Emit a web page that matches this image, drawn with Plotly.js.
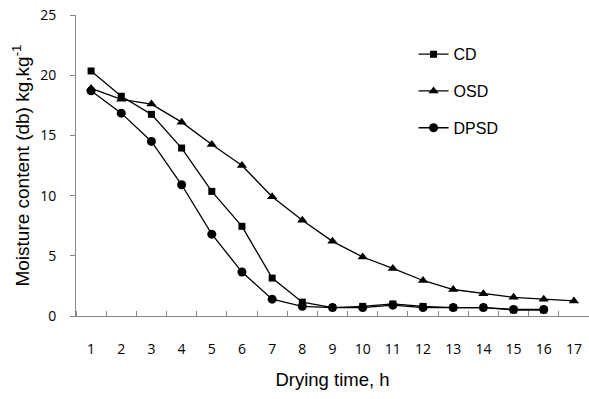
<!DOCTYPE html>
<html>
<head>
<meta charset="utf-8">
<script src="https://cdn.plot.ly/plotly-3.0.1.min.js"></script>
<style>html,body{margin:0;padding:0;background:#fff;}#chart{width:589px;height:399px;}</style>
</head>
<body>
<div id="chart"></div>
<script>
const hoursCD = [1,2,3,4,5,6,7,8,9,10,11,12,13,14,15,16];
const hoursOSD = [1,2,3,4,5,6,7,8,9,10,11,12,13,14,15,16,17];
const hoursDPSD = [1,2,3,4,5,6,7,8,9,10,11,12,13,14,15,16];
const cd = [20.35,18.25,16.75,13.95,10.35,7.45,3.15,1.15,0.7,0.8,1.0,0.8,0.7,0.7,0.5,0.5];
const osd = [18.9,18.0,17.6,16.1,14.25,12.5,9.9,7.95,6.2,4.9,3.95,2.95,2.2,1.85,1.55,1.4,1.25];
const dpsd = [18.7,16.85,14.5,10.9,6.8,3.65,1.4,0.8,0.7,0.7,0.9,0.7,0.7,0.7,0.55,0.55];
const xTicks = [1,2,3,4,5,6,7,8,9,10,11,12,13,14,15,16,17];
const yTicks = [0,5,10,15,20,25];

const lineStyle = {color:'#000', width:1.3};
const traces = [
  {x:hoursCD, y:cd, name:'CD', legendgroup:'a', mode:'lines+markers', line:lineStyle, marker:{symbol:'square', size:7, color:'#000'}},
  {x:hoursOSD, y:osd, name:'OSD', legendgroup:'b', mode:'lines+markers', line:lineStyle, marker:{symbol:'triangle-up', size:9, color:'#000'}},
  {x:hoursDPSD, y:dpsd, name:'DPSD', legendgroup:'c', mode:'lines+markers', line:lineStyle, marker:{symbol:'circle', size:9, color:'#000'}}
];
const tickFont = {family:'Open Sans, sans-serif', size:14, color:'#000'};
const xTitleFont = {family:'Liberation Sans, Arial, sans-serif', size:18.5, color:'#000'};
const yTitleFont = {family:'Liberation Sans, Arial, sans-serif', size:19, color:'#000'};
const layout = {
  width:589, height:399,
  margin:{l:76, r:0, t:15, b:83},
  paper_bgcolor:'#fff', plot_bgcolor:'#fff',
  showlegend:true,
  legend:{x:0.658, y:0.926, xanchor:'left', yanchor:'top', font:{family:'Liberation Sans, Arial, sans-serif', size:16, color:'#000'}, tracegroupgap:13, bgcolor:'rgba(0,0,0,0)'},
  xaxis:{range:[0.5,17.5], tickvals:xTicks, ticktext:xTicks.map(String), ticks:'', showgrid:false, zeroline:false,
    showline:true, linecolor:'#868686', linewidth:1, tickfont:tickFont, ticklabelstandoff:20,
    minor:{tick0:0.5, dtick:1, ticks:'inside', ticklen:5, tickcolor:'#868686', showgrid:false},
    title:{text:'Drying time, h', font:xTitleFont, standoff:16}},
  yaxis:{range:[0,25], tickvals:yTicks, ticks:'outside', ticklen:5, tickcolor:'#868686', showgrid:false, zeroline:false,
    showline:true, linecolor:'#868686', linewidth:1, tickfont:tickFont, ticklabelstandoff:11},
  annotations:[{text:'Moisture content (db) kg,kg<sup>-1</sup>', textangle:-90, xref:'paper', yref:'paper',
    x:-0.109, y:0.5, xanchor:'center', yanchor:'middle', showarrow:false,
    font:yTitleFont}]
};
Plotly.newPlot('chart', traces, layout, {displayModeBar:false, staticPlot:true});
</script>
</body>
</html>
